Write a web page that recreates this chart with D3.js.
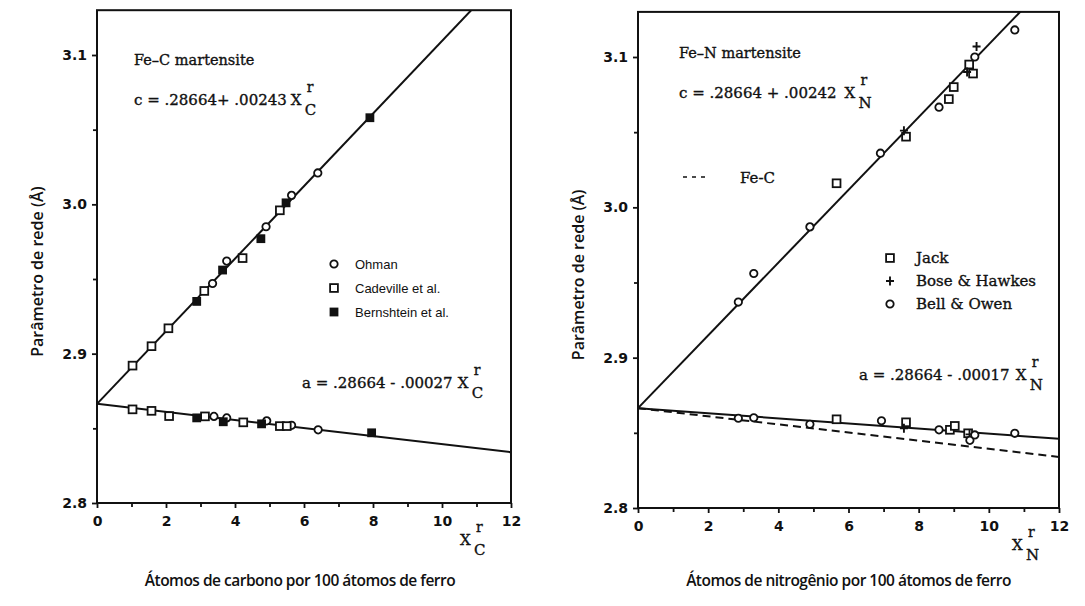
<!DOCTYPE html>
<html>
<head>
<meta charset="utf-8">
<script src="https://cdn.jsdelivr.net/npm/d3@7"></script>
<style>
  body { margin: 0; background: #fff; }
  svg { display: block; }
</style>
</head>
<body>
<svg id="chart" width="1085" height="606"></svg>
<script>
// Lattice parameters (Å) of Fe-C and Fe-N martensite vs. interstitial content
// (atoms per 100 Fe atoms). Each point: [x, parameter].

// --- Fe-C panel ---
const ohmanC      = [[3.35, 2.947], [3.76, 2.962], [4.90, 2.985], [5.64, 3.006], [6.40, 3.021]];
const ohmanA      = [[3.39, 2.858], [3.76, 2.857], [4.92, 2.855], [5.64, 2.852], [6.41, 2.849]];
const cadevilleC  = [[1.03, 2.892], [1.58, 2.905], [2.07, 2.917], [3.11, 2.942], [4.22, 2.964], [5.30, 2.996]];
const cadevilleA  = [[1.03, 2.8627], [1.58, 2.8617], [2.09, 2.8582], [3.13, 2.858], [4.24, 2.854], [5.30, 2.8515], [5.50, 2.8515]];
const bernshteinC = [[2.89, 2.935], [3.64, 2.956], [4.75, 2.977], [5.48, 3.001], [7.91, 3.058]];
const bernshteinA = [[2.89, 2.857], [3.66, 2.8544], [4.77, 2.853], [7.96, 2.847]];

// --- Fe-N panel ---
const jackC = [[5.66, 3.016], [7.64, 3.047], [8.86, 3.072], [9.00, 3.080], [9.44, 3.095], [9.55, 3.089]];
const jackA = [[5.66, 2.859], [7.64, 2.857], [8.89, 2.852], [9.03, 2.8546], [9.41, 2.8497]];
const boseC = [[7.58, 3.051], [9.38, 3.090], [9.65, 3.107]];
const boseA = [[7.58, 2.853], [9.45, 2.849]];
const bellC = [[2.86, 2.937], [3.30, 2.956], [4.90, 2.987], [6.91, 3.036], [8.58, 3.0666], [9.60, 3.100], [10.74, 3.118]];
const bellA = [[2.86, 2.8597], [3.30, 2.860], [4.90, 2.8557], [6.94, 2.858], [8.58, 2.852], [9.46, 2.845], [9.60, 2.8486], [10.74, 2.8497]];

// Linear fits: parameter = intercept + slope * x
const intercept = 2.8664;
const slopesFeC = { c: 0.0243, a: -0.0027 };
const slopesFeN = { c: 0.0242, a: -0.0017 };

// Axis ticks
const xTicks = [0, 2, 4, 6, 8, 10, 12];
const xMinor = [1, 3, 5, 7, 9, 11];
const yTicks = [2.8, 2.9, 3.0, 3.1];
const yMinor = [2.85, 2.95, 3.05];
const xDomain = [0, 12];
const yDomain = [2.8, 3.13];

const svg = d3.select("#chart");
const serif = "'DejaVu Serif', serif";
const sansBold = "'DejaVu Sans', sans-serif";
const ink = "#111";

function marker(g, data, kind, x, y) {
  const sel = g.append("g").selectAll("g").data(data).join("g")
    .attr("transform", d => `translate(${x(d[0])},${y(d[1])})`);
  if (kind === "circle") {
    sel.append("circle").attr("r", 3.7).attr("fill", "#fff").attr("stroke", ink).attr("stroke-width", 1.8);
  } else if (kind === "square") {
    sel.append("rect").attr("x", -3.9).attr("y", -3.9).attr("width", 7.8).attr("height", 7.8)
      .attr("fill", "#fff").attr("stroke", ink).attr("stroke-width", 1.8);
  } else if (kind === "filled") {
    sel.append("rect").attr("x", -4.4).attr("y", -4.4).attr("width", 8.8).attr("height", 8.8)
      .attr("fill", ink);
  } else if (kind === "plus") {
    sel.append("path").attr("d", "M-4,0H4M0,-4.5V4.5").attr("stroke", ink).attr("stroke-width", 1.9);
  }
}

function text(g, px, py, str, opts = {}) {
  const t = g.append("text").attr("x", px).attr("y", py)
    .attr("font-family", opts.family || serif).attr("font-size", opts.size || 15)
    .attr("font-weight", opts.weight || "normal").attr("fill", ink)
    .attr("text-anchor", opts.anchor || "start").text(str);
  if (!opts.family) {
    t.attr("stroke", ink).attr("stroke-width", 0.35);
  }
  return t;
}

// X with superscript r and a subscript element symbol
function symbolX(g, px, py, sub, size) {
  text(g, px, py, "X", { size });
  text(g, px + 16, py - 13, "r", { size: size - 1 });
  text(g, px + 14, py + 10, sub, { size });
}

// Equation text followed directly by the X symbol
function equation(g, px, py, str, sub, gap) {
  const t = text(g, px, py, str, { size: 15 });
  const w = t.node().getComputedTextLength();
  symbolX(g, px + w + gap, py, sub, 15);
}

function panel(opts) {
  const x = d3.scaleLinear().domain(xDomain).range([opts.left, opts.right]);
  const y = d3.scaleLinear().domain([2.8, 3.1]).range([opts.bottom, opts.y31]);
  const top = y(yDomain[1]);
  const g = svg.append("g");

  const clipId = "clip" + opts.id;
  svg.append("clipPath").attr("id", clipId).append("rect")
    .attr("x", opts.left).attr("y", top).attr("width", opts.right - opts.left).attr("height", opts.bottom - top);

  // frame
  g.append("rect").attr("x", opts.left).attr("y", top)
    .attr("width", opts.right - opts.left).attr("height", opts.bottom - top)
    .attr("fill", "none").attr("stroke", ink).attr("stroke-width", 2);

  // axes
  const xAxis = g.append("g").attr("transform", `translate(0,${opts.bottom})`)
    .call(d3.axisBottom(x).tickValues(xTicks).tickSize(5).tickPadding(5).tickFormat(d3.format("d")));
  g.append("g").attr("transform", `translate(0,${opts.bottom})`)
    .call(d3.axisBottom(x).tickValues(xMinor).tickSize(4).tickFormat(""));
  g.append("g").attr("transform", `translate(${opts.left},0)`)
    .call(d3.axisLeft(y).tickValues(yTicks).tickSize(5).tickPadding(5).tickFormat(d3.format(".1f")));
  g.append("g").attr("transform", `translate(${opts.left},0)`)
    .call(d3.axisLeft(y).tickValues(yMinor).tickSize(4).tickFormat(""));
  g.selectAll(".domain").remove();
  g.selectAll(".tick line").attr("stroke", ink).attr("stroke-width", 1.8);
  g.selectAll(".tick text").attr("fill", ink).attr("font-family", sansBold)
    .attr("font-weight", "bold").attr("font-size", 14);
  xAxis.selectAll(".tick text").attr("dy", "0.9em");

  // fit lines
  const lines = g.append("g").attr("clip-path", `url(#${clipId})`);
  const fit = (slope) => xDomain.map(v => [v, intercept + slope * v]);
  const lineGen = d3.line().x(d => x(d[0])).y(d => y(d[1]));
  lines.append("path").attr("d", lineGen(fit(opts.slopes.c))).attr("fill", "none")
    .attr("stroke", ink).attr("stroke-width", 2);
  lines.append("path").attr("d", lineGen(fit(opts.slopes.a))).attr("fill", "none")
    .attr("stroke", ink).attr("stroke-width", 2);
  if (opts.dashed) {
    lines.append("path").attr("d", lineGen(fit(opts.dashed))).attr("fill", "none")
      .attr("stroke", ink).attr("stroke-width", 2).attr("stroke-dasharray", "8,5");
  }

  opts.series.forEach(s => marker(g, s.data, s.kind, x, y));

  // y axis title
  svg.append("text")
    .attr("transform", `translate(${opts.left - 54},${(top + opts.bottom) / 2 + 15}) rotate(-90)`)
    .attr("text-anchor", "middle").attr("font-family", "'Open Sans', sans-serif")
    .attr("font-weight", 600).attr("font-size", 16).attr("fill", ink)
    .text("Parâmetro de rede (Å)");
  // x axis title
  svg.append("text")
    .attr("x", (opts.left + opts.right) / 2 + opts.xTitleShift).attr("y", 586)
    .attr("text-anchor", "middle").attr("font-family", "'Open Sans', sans-serif")
    .attr("font-weight", 600).attr("font-size", 15.5).attr("letter-spacing", -0.5).attr("fill", ink)
    .text(opts.xTitle);

  return { x, y, g };
}

// ---------- Fe-C ----------
panel({
  id: "C", left: 97, right: 511, bottom: 503, y31: 55,
  slopes: slopesFeC, xTitle: "Átomos de carbono por 100 átomos de ferro", xTitleShift: -4,
  series: [
    { data: ohmanC, kind: "circle" }, { data: ohmanA, kind: "circle" },
    { data: cadevilleC, kind: "square" }, { data: cadevilleA, kind: "square" },
    { data: bernshteinC, kind: "filled" }, { data: bernshteinA, kind: "filled" }
  ]
});
text(svg, 134, 65, "Fe–C martensite", { size: 14.5 });
equation(svg, 134, 105, "c = .28664+ .00243", "C", 4);
equation(svg, 302, 388, "a = .28664 - .00027", "C", 5);
symbolX(svg, 460, 545, "C", 15);

// legend (Fe-C)
const legC = svg.append("g");
[["circle", "Ohman"], ["square", "Cadeville et al."], ["filled", "Bernshtein et al."]].forEach((d, i) => {
  const yy = 264 + i * 24;
  marker(legC, [[0, 0]], d[0], () => 334, () => yy);
  text(legC, 355, yy + 4.5, d[1], { family: "'Liberation Sans', Arial, sans-serif", size: 13 });
});

// ---------- Fe-N ----------
panel({
  id: "N", left: 638, right: 1059, bottom: 508, y31: 57,
  slopes: slopesFeN, dashed: slopesFeC.a,
  xTitle: "Átomos de nitrogênio por 100 átomos de ferro", xTitleShift: 0,
  series: [
    { data: jackC, kind: "square" }, { data: jackA, kind: "square" },
    { data: boseC, kind: "plus" }, { data: boseA, kind: "plus" },
    { data: bellC, kind: "circle" }, { data: bellA, kind: "circle" }
  ]
});
text(svg, 679, 58, "Fe–N martensite", { size: 14.5 });
equation(svg, 679, 98, "c = .28664 + .00242", "N", 8);
equation(svg, 859, 380, "a = .28664 - .00017", "N", 6);
symbolX(svg, 1012, 550, "N", 15);

svg.append("path").attr("d", "M683,177H709").attr("stroke", ink).attr("stroke-width", 1.6)
  .attr("stroke-dasharray", "4,5");
text(svg, 740, 183, "Fe-C", { size: 15 });

const legN = svg.append("g");
[["square", "Jack"], ["plus", "Bose & Hawkes"], ["circle", "Bell & Owen"]].forEach((d, i) => {
  const yy = 258 + i * 23;
  marker(legN, [[0, 0]], d[0], () => 890, () => yy);
  text(legN, 916, yy + 5, d[1], { size: 15 });
});
</script>
</body>
</html>
